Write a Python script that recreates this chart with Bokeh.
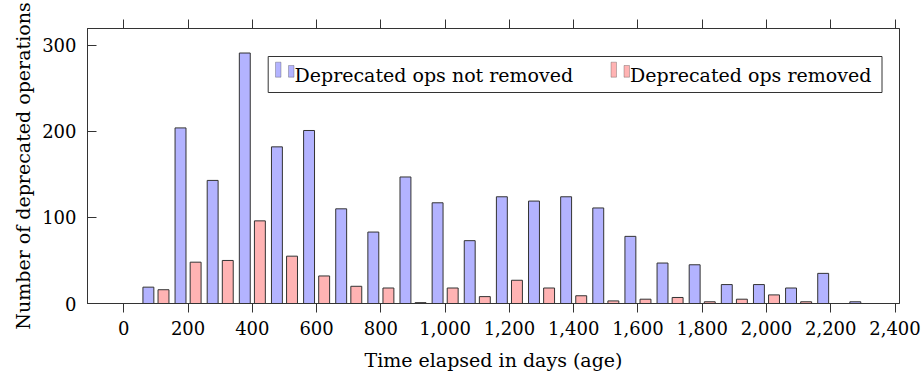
from bokeh.plotting import figure
from bokeh.models import (Range1d, LinearAxis, SingleIntervalTicker, NumeralTickFormatter,
                          ColumnDataSource, BoxAnnotation, Label)
from bokeh.transform import dodge
from bokeh.embed import file_html
from bokeh.resources import INLINE

# ---- data ----
age_days = [0, 100, 200, 300, 400, 500, 600, 700, 800, 900, 1000, 1100,
            1200, 1300, 1400, 1500, 1600, 1700, 1800, 1900, 2000, 2100, 2200, 2300]
not_removed = [0, 19, 204, 143, 291, 182, 201, 110, 83, 147, 117, 73,
               124, 119, 124, 111, 78, 47, 45, 22, 22, 18, 35, 2]
removed = [0, 16, 48, 50, 96, 55, 32, 20, 18, 1, 18, 8,
           27, 18, 9, 3, 5, 7, 2, 5, 10, 2, 0, 0]
series_labels = ["Deprecated ops not removed", "Deprecated ops removed"]
x_label = "Time elapsed in days (age)"
y_label = "Number of deprecated operations"

FONT = "DejaVu Serif"
TICK_FS = "18px"
LABEL_FS = "19px"
LINE = "#333333"
BLUE = "#b3b3ff"
RED = "#ffb3b3"

src = ColumnDataSource(dict(x=age_days, a=not_removed, b=removed))

p = figure(width=921, height=379, x_range=Range1d(-113, 2414), y_range=Range1d(0, 319.5),
           output_backend="svg", toolbar_location=None,
           x_axis_location=None, y_axis_location=None,
           min_border_left=87, min_border_right=22, min_border_top=28, min_border_bottom=76)
p.grid.visible = False
p.outline_line_color = LINE
p.outline_line_width = 1
p.background_fill_color = "white"
p.border_fill_color = "white"

p.vbar(x=dodge("x", -23.5, range=p.x_range), top="a", width=34, bottom=0, source=src,
       fill_color=BLUE, line_color=LINE, line_width=1)
p.vbar(x=dodge("x", 23.5, range=p.x_range), top="b", width=34, bottom=0, source=src,
       fill_color=RED, line_color=LINE, line_width=1)

def style(ax):
    ax.axis_line_color = LINE
    ax.major_tick_line_color = LINE
    ax.minor_tick_line_color = None
    ax.major_label_text_font = FONT
    ax.major_label_text_font_size = TICK_FS
    ax.major_label_text_color = "black"
    ax.axis_label_text_font = FONT
    ax.axis_label_text_font_size = LABEL_FS
    ax.axis_label_text_font_style = "normal"
    ax.axis_label_text_color = "black"

xb = LinearAxis(ticker=SingleIntervalTicker(interval=200), formatter=NumeralTickFormatter(format="0,0"),
                axis_label=x_label)
style(xb)
xb.major_tick_in = 0
xb.major_tick_out = 9
xb.major_label_standoff = 8
xb.axis_label_standoff = 11
p.add_layout(xb, "below")

xt = LinearAxis(ticker=SingleIntervalTicker(interval=200))
style(xt)
xt.major_tick_in = 0
xt.major_tick_out = 9
xt.major_label_text_font_size = "1px"
xt.major_label_text_color = None
xt.major_label_standoff = 0
p.add_layout(xt, "above")

yl = LinearAxis(ticker=SingleIntervalTicker(interval=100), axis_label=y_label)
style(yl)
yl.major_tick_in = 9
yl.major_tick_out = 0
yl.major_label_standoff = 7
yl.axis_label_standoff = 5
p.add_layout(yl, "left")

# ---- legend (pgfplots style, two mini bars per entry) ----
p.add_layout(BoxAnnotation(left=180.7, right=794.5, bottom=211, top=247,
                           left_units="screen", right_units="screen",
                           bottom_units="screen", top_units="screen",
                           fill_color="white", fill_alpha=1, line_color=LINE, line_width=1,
                           line_alpha=1))
entries = [(BLUE, 188.0, series_labels[0]), (RED, 523.5, series_labels[1])]
for col, x0, lab in entries:
    p.add_layout(BoxAnnotation(left=x0, right=x0 + 5.5, bottom=226.3, top=241.3,
                               left_units="screen", right_units="screen",
                               bottom_units="screen", top_units="screen",
                               fill_color=col, fill_alpha=1, line_color=LINE, line_width=1))
    p.add_layout(BoxAnnotation(left=x0 + 13, right=x0 + 18.5, bottom=226.3, top=238,
                               left_units="screen", right_units="screen",
                               bottom_units="screen", top_units="screen",
                               fill_color=col, fill_alpha=1, line_color=LINE, line_width=1))
    p.add_layout(Label(x=x0 + 19, y=229, x_units="screen", y_units="screen", text=lab,
                       text_font=FONT, text_font_size=LABEL_FS, text_color="black",
                       text_baseline="alphabetic", text_align="left"))

open("out.html", "w").write(file_html(p, INLINE))
